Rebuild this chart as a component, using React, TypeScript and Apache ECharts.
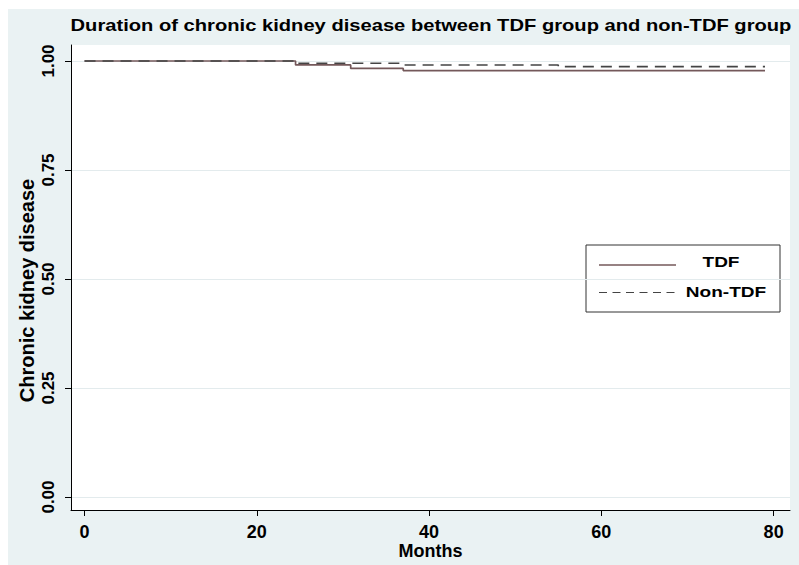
import React, { useEffect, useRef } from "react";
import * as echarts from "echarts";

const titleText = "Duration of chronic kidney disease between TDF group and non-TDF group";
const xTicks = [0, 20, 40, 60, 80];
const yTicks = [0, 0.25, 0.5, 0.75, 1];
const seriesNames = ["TDF", "Non-TDF"];
// Kaplan-Meier step points [month, survival]
const tdfMonths = [0, 24.5, 30.9, 37.0, 79.0];
const tdfValues = [1.0, 0.991, 0.983, 0.978, 0.978];
const nonTdfMonths = [0, 24.5, 36.6, 55.0, 79.0];
const nonTdfValues = [1.0, 0.995, 0.991, 0.987, 0.987];

const W = 799;
const H = 565;
const GRID = { left: 71, right: 9, top: 45, bottom: 55 };

export default function App() {
  const ref = useRef<HTMLDivElement>(null);
  useEffect(() => {
    document.body.style.margin = "0";
    if (!ref.current) return;
    const chart = echarts.init(ref.current, undefined, { renderer: "svg" });
    const font = "'Liberation Sans', Arial, sans-serif";
    const pw = W - GRID.left - GRID.right;
    const ph = H - GRID.top - GRID.bottom;
    chart.setOption({
      animation: false,
      backgroundColor: "#ffffff",
      grid: { ...GRID, containLabel: false },
      xAxis: {
        type: "value",
        min: -1.57,
        max: 81.9,
        name: "Months",
        nameLocation: "middle",
        nameGap: 32,
        nameMoveOverlap: false,
        nameTextStyle: { fontFamily: font, fontSize: 18, fontWeight: "bold", color: "#000" },
        axisLine: { show: true, onZero: false, lineStyle: { color: "#000", width: 1 } },
        axisTick: { show: true, length: 6, customValues: xTicks, lineStyle: { color: "#000" } },
        axisLabel: {
          customValues: xTicks,
          margin: 13,
          fontFamily: font,
          fontSize: 18,
          fontWeight: "bold",
          color: "#000",
        },
        splitLine: { show: false },
      },
      yAxis: {
        type: "value",
        min: -0.0298,
        max: 1.0367,
        name: "Chronic kidney disease",
        nameLocation: "middle",
        nameGap: 34,
        nameMoveOverlap: false,
        nameTextStyle: {
          fontFamily: font,
          fontSize: 20,
          fontWeight: "bold",
          color: "#000",
          padding: [0, 26, 0, 0],
        },
        axisLine: { show: true, onZero: false, lineStyle: { color: "#000", width: 1 } },
        axisTick: { show: true, length: 6, customValues: yTicks, lineStyle: { color: "#000" } },
        axisLabel: {
          customValues: yTicks,
          rotate: 90,
          margin: 14,
          fontFamily: font,
          fontSize: 17,
          fontWeight: "bold",
          color: "#000",
          formatter: (v: number) => v.toFixed(2),
        },
        splitLine: { show: true, lineStyle: { color: "#e3ebed", width: 1 } },
      },
      series: [
        {
          name: seriesNames[0],
          type: "line",
          step: "end",
          symbol: "none",
          data: tdfMonths.map((m, i) => [m, tdfValues[i]]),
          lineStyle: { color: "#74585a", width: 1.7, type: "solid" },
          z: 3,
        },
        {
          name: seriesNames[1],
          type: "line",
          step: "end",
          symbol: "none",
          data: nonTdfMonths.map((m, i) => [m, nonTdfValues[i]]),
          lineStyle: { color: "#444444", width: 1.6, type: [11, 7] },
          z: 4,
        },
      ],
      graphic: [
        {
          type: "rect",
          silent: true,
          z: -20,
          shape: { x: 8, y: 9, width: W - 8, height: H - 9 },
          style: { fill: "#eaf2f3" },
        },
        {
          type: "rect",
          silent: true,
          z: -19,
          shape: { x: GRID.left, y: GRID.top, width: pw, height: ph },
          style: { fill: "#ffffff" },
        },
        {
          type: "text",
          x: 431,
          y: 26,
          scaleX: 1.26,
          style: {
            text: titleText,
            fontFamily: font,
            fontSize: 16,
            fontWeight: "bold",
            fill: "#000",
            textAlign: "center",
            textVerticalAlign: "middle",
          },
        },
        {
          type: "group",
          z: 10,
          children: [
            {
              type: "rect",
              shape: { x: 586, y: 245, width: 194, height: 67 },
              style: { fill: "#ffffff", stroke: "#333", lineWidth: 1 },
            },
            {
              type: "line",
              shape: { x1: 599, y1: 265, x2: 676, y2: 265 },
              style: { stroke: "#74585a", lineWidth: 1.4 },
            },
            {
              type: "line",
              shape: { x1: 599, y1: 292.5, x2: 676, y2: 292.5 },
              style: { stroke: "#444444", lineWidth: 1.2, lineDash: [8, 5.5] },
            },
            {
              type: "text",
              x: 721,
              y: 262,
              scaleX: 1.27,
              style: {
                text: seriesNames[0],
                fontFamily: font,
                fontSize: 15,
                fontWeight: "bold",
                fill: "#000",
                textAlign: "center",
                textVerticalAlign: "middle",
              },
            },
            {
              type: "text",
              x: 726,
              y: 292,
              scaleX: 1.27,
              style: {
                text: seriesNames[1],
                fontFamily: font,
                fontSize: 15,
                fontWeight: "bold",
                fill: "#000",
                textAlign: "center",
                textVerticalAlign: "middle",
              },
            },
          ],
        },
      ],
    });
    return () => chart.dispose();
  }, []);
  return <div ref={ref} style={{ width: W, height: H }} />;
}
